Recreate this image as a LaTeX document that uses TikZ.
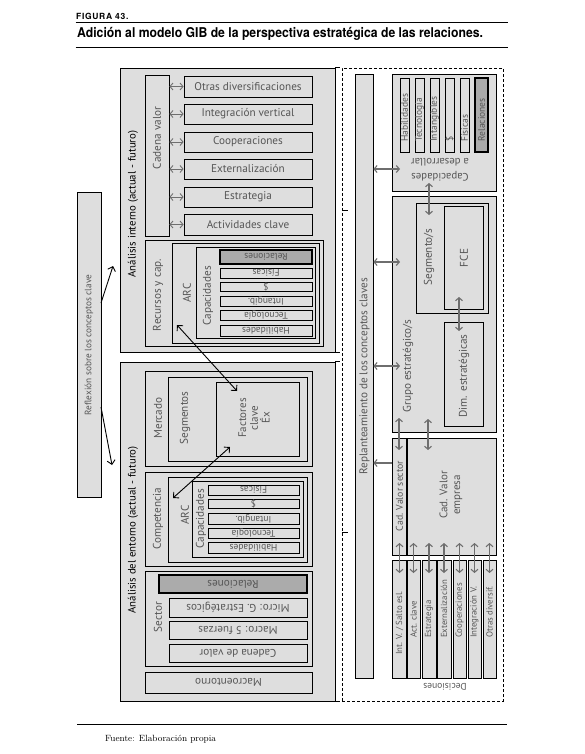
\documentclass[tikz,border=0pt]{standalone}
\usepackage{fontspec}
\newfontfamily\dfont{PT Sans}
\newfontfamily\hfont{TeX Gyre Heros}
\usetikzlibrary{arrows.meta,fit}
\definecolor{boxgray}{HTML}{DEDEDE}
\definecolor{relgray}{HTML}{ABABAB}
\definecolor{txtgray}{HTML}{555555}
\definecolor{arrgray}{HTML}{6E6E6E}
\tikzset{
  box/.style={draw=black, line width=0.8pt, fill=boxgray, inner sep=0pt},
  relbox/.style={draw=black, line width=2.2pt, fill=relgray, inner sep=0pt},
  lbl/.style={font=\dfont\fontsize{11.2}{13}\selectfont, text=txtgray, inner sep=0pt},
  slbl/.style={font=\dfont\fontsize{9.5}{11}\selectfont, text=txtgray, inner sep=0pt},
  dlbl/.style={font=\dfont\fontsize{8.8}{10}\selectfont, text=txtgray, inner sep=0pt},
  blbl/.style={font=\dfont\fontsize{10.8}{12}\selectfont, text=black, inner sep=0pt},
  garr/.style={draw=arrgray, line width=1.1pt, {Straight Barb[length=3pt,width=7pt]}-{Straight Barb[length=3pt,width=7pt]}},
  garrone/.style={draw=arrgray, line width=1.1pt, -{Straight Barb[length=3pt,width=7pt]}},
  karr/.style={draw=black, line width=0.9pt, {Straight Barb[length=4pt,width=8pt]}-{Straight Barb[length=4pt,width=8pt]}},
  karrone/.style={draw=black, line width=0.9pt, -{Straight Barb[length=4pt,width=8pt]}},
  tick/.style={draw=black, line width=0.8pt},
}
\begin{document}
\begin{tikzpicture}[x=1pt,y=-1pt]
\useasboundingbox (0,0) rectangle (584,754);
% ---------- header ----------
\node[anchor=base west, inner sep=0pt, font=\hfont\bfseries\fontsize{8.5}{10}\selectfont\addfontfeature{LetterSpace=8}] (fig) at (76,19.3) {FIGURA 43.};
\draw[line width=0.9pt] (75.5,22.3) -- (507.5,22.3);
\node[anchor=base west, inner sep=0pt, font=\hfont\bfseries\fontsize{13.5}{15}\selectfont] (title) at (77,37.7) {\scalebox{0.905}[1]{Adición al modelo GIB de la perspectiva estratégica de las relaciones.}};
\draw[line width=1.4pt] (75.5,47.7) -- (507.5,47.7);
% ---------- footer ----------
\draw[line width=1pt] (77,724) -- (507,724);
\node[anchor=base west, inner sep=0pt, font=\fontsize{9}{10}\selectfont] (src) at (105,741.5) {Fuente: Elaboración propia};

% ---------- reflexion ----------
\node[box, fit={(77,192)(101,497)}] (refl) {};
\node[lbl, rotate=90, font=\dfont\fontsize{9.3}{11}\selectfont] (refltxt) at (89,345) {Reflexión sobre los conceptos clave};

% ---------- analisis interno ----------
\node[box, fit={(120,68)(335,352)}] (ai) {};
\node[blbl, rotate=90] (aitxt) at (133,204) {Análisis interno (actual - futuro)};
\node[box, fit={(145,75)(169,236)}] (cv) {};
\node[lbl, rotate=90] (cvtxt) at (157,138) {Cadena valor};
\node[box, fit={(184,76)(312,97)}] (od) {};
\node[box, fit={(184,104)(312,124)}] (iv) {};
\node[box, fit={(184,132)(312,152)}] (coop) {};
\node[box, fit={(184,159)(312,179)}] (ext) {};
\node[box, fit={(184,187)(312,207)}] (estr) {};
\node[box, fit={(184,214)(312,235)}] (act) {};
\node[lbl] (odtxt) at (od.center) {Otras diversificaciones};
\node[lbl] (ivtxt) at (iv.center) {Integración vertical};
\node[lbl] (cooptxt) at (coop.center) {Cooperaciones};
\node[lbl] (exttxt) at (ext.center) {Externalización};
\node[lbl] (estrtxt) at (estr.center) {Estrategia};
\node[lbl] (acttxt) at (act.center) {Actividades clave};
\foreach \b in {od,iv,coop,ext,estr,act}{
  \draw[garr, line width=0.9pt] (cv.east |- \b.west) -- (\b.west);
}
\node[box, fit={(145,240)(323,346)}] (rc) {};
\node[lbl, rotate=90] (rctxt) at (158,295) {Recursos y cap.};
\node[box, fit={(172,243)(319,343)}] (arca) {};
\node[lbl, rotate=90] (arcatxt) at (187,293) {ARC};
\node[box, fit={(196,247)(315,338)}] (capa) {};
\node[lbl, rotate=90] (capatxt) at (208,296) {Capacidades};
\node[relbox, fit={(220,250)(312,264)}] (rela) {};
\node[box, fit={(220,268)(312,278)}] (fisa) {};
\node[box, fit={(220,282)(312,291)}] (dina) {};
\node[box, fit={(220,296)(312,306)}] (inta) {};
\node[box, fit={(220,310)(312,320)}] (teca) {};
\node[box, fit={(220,325)(312,336)}] (haba) {};
\node[slbl, rotate=180] (relatxt) at (rela.center) {Relaciones};
\node[slbl, rotate=180] (fisatxt) at (fisa.center) {Físicas};
\node[slbl, rotate=180] (dinatxt) at (dina.center) {\$};
\node[slbl, rotate=180] (intatxt) at (inta.center) {Intangib.};
\node[slbl, rotate=180] (tecatxt) at (teca.center) {Tecnología};
\node[slbl, rotate=180] (habatxt) at (haba.center) {Habilidades};

% ---------- analisis del entorno ----------
\node[box, fit={(120,362)(335,701)}] (ae) {};
\node[blbl, rotate=90] (aetxt) at (133,530) {Análisis del entorno (actual - futuro)};
\node[box, fit={(145,371)(312,466)}] (merc) {};
\node[lbl, rotate=90] (merctxt) at (158,418) {Mercado};
\node[box, fit={(168,377)(307,461)}] (seg) {};
\node[lbl, rotate=90] (segtxt) at (185,418) {Segmentos};
\node[box, fit={(216,382)(299,456)}] (fac) {};
\node[lbl, rotate=90, align=center, font=\dfont\fontsize{11}{11.8}\selectfont] (factxt) at (254,418) {Factores\\clave\\Éx};
\node[box, fit={(145,472)(312,566)}] (comp) {};
\node[lbl, rotate=90] (comptxt) at (158,519) {Competencia};
\node[box, fit={(168,477)(307,562)}] (arcb) {};
\node[lbl, rotate=90] (arcbtxt) at (185,515) {ARC};
\node[box, fit={(192,481)(303,557)}] (capb) {};
\node[lbl, rotate=90] (capbtxt) at (201,519) {Capacidades};
\node[box, fit={(208,485)(299,495)}] (fisb) {};
\node[box, fit={(208,499)(299,508)}] (dinb) {};
\node[box, fit={(208,513)(299,524)}] (intb) {};
\node[box, fit={(208,528)(299,538)}] (tecb) {};
\node[box, fit={(208,542)(299,553)}] (habb) {};
\node[slbl, rotate=180] (fisbtxt) at (fisb.center) {Físicas};
\node[slbl, rotate=180] (dinbtxt) at (dinb.center) {\$};
\node[slbl, rotate=180] (intbtxt) at (intb.center) {Intangib.};
\node[slbl, rotate=180] (tecbtxt) at (tecb.center) {Tecnología};
\node[slbl, rotate=180] (habbtxt) at (habb.center) {Habilidades};
\node[box, fit={(145,571)(312,666)}] (sect) {};
\node[lbl, rotate=90] (secttxt) at (158,617) {Sector};
\node[relbox, fit={(159,575)(307,593)}] (relb) {};
\node[box, fit={(169,598)(307,617)}] (micro) {};
\node[box, fit={(169,621)(307,639)}] (macro) {};
\node[box, fit={(169,644)(307,662)}] (cadv) {};
\node[box, fit={(145,672)(312,693)}] (macroent) {};
\node[lbl, rotate=180] (relbtxt) at (relb.center) {Relaciones};
\node[lbl, rotate=180] (microtxt) at (micro.center) {Micro: G. Estratégicos};
\node[lbl, rotate=180] (macrotxt) at (macro.center) {Macro: 5 fuerzas};
\node[lbl, rotate=180] (cadvtxt) at (cadv.center) {Cadena de valor};
\node[lbl, rotate=180] (macroenttxt) at (macroent.center) {Macroentorno};

% small marks at the right of the left boxes
\draw[tick] (ai.north east) -- ++(5,0);
\draw[tick] (ai.south east) -- ++(5,0);
\draw[tick] (ae.north east) -- ++(5,0);
\draw[tick] (ae.south east) -- ++(5,0);

% ---------- black arrows ----------
\coordinate (r1a) at (101,303);
\coordinate (r1b) at (113,266);
\coordinate (r2a) at (101,407);
\coordinate (r2b) at (112,465);
\draw[karrone] (r1a) -- (r1b);
\draw[karrone] (r2a) -- (r2b);
\coordinate (x1) at (177,325);
\coordinate (x2) at (237,391);
\draw[karr] (x1) -- (x2);
\coordinate (x3) at (230,447);
\coordinate (x4) at (173,498);
\draw[karr] (x3) -- (x4);

% ---------- right part ----------
\node[draw=black, line width=0.8pt, dash pattern=on 3pt off 2pt, inner sep=0pt, fit={(342,68)(503,701)}] (dec) {};
\draw[tick] (342,210) -- (348,210);
\draw[tick] (342,532) -- (348,532);
\node[box, fit={(355,74)(373,678)}] (repl) {};
\node[lbl, rotate=90] (repltxt) at (364.5,376) {Replanteamiento de los conceptos claves};

\node[box, fit={(392,74)(496,191)}] (capdes) {};
\node[box, fit={(400,78)(409,152)}] (habc) {};
\node[box, fit={(415,78)(424,152)}] (tecc) {};
\node[box, fit={(430,78)(439,152)}] (intc) {};
\node[box, fit={(445,78)(454,152)}] (dinc) {};
\node[box, fit={(460,78)(469,152)}] (fisc) {};
\node[relbox, fit={(475,78)(488,152)}] (relc) {};
\node[slbl, rotate=90, anchor=west] (habctxt) at (404.5,142) {Habilidades};
\node[slbl, rotate=90, anchor=west] (tecctxt) at (419.5,142) {Tecnología};
\node[slbl, rotate=90, anchor=west] (intctxt) at (434.5,142) {Intangibles};
\node[slbl, rotate=90, anchor=west] (dinctxt) at (449.5,142) {\$};
\node[slbl, rotate=90, anchor=west] (fisctxt) at (464.5,142) {Físicas};
\node[slbl, rotate=90, anchor=west] (relctxt) at (481.5,142) {Relaciones};
\node[lbl, rotate=180, align=center, font=\dfont\fontsize{10.8}{14.5}\selectfont] (capdestxt) at (440,170) {Capacidades\\a desarrollar};

\node[box, fit={(392,196)(496,432)}] (grp) {};
\node[lbl, rotate=90] (grptxt) at (408,366) {Grupo estratégico/s};
\node[box, fit={(416,203)(488,313)}] (segs) {};
\node[lbl, rotate=90] (segstxt) at (429,257) {Segmento/s};
\node[box, fit={(444,206)(483,309)}] (fce) {};
\node[lbl, rotate=90] (fcetxt) at (464,258) {FCE};
\node[box, fit={(444,322)(483,426)}] (dim) {};
\node[lbl, rotate=90] (dimtxt) at (464,376) {Dim. estratégicas};

\node[box, fit={(392,438)(406,555)}] (cvs) {};
\node[lbl, rotate=90, font=\dfont\fontsize{9.8}{11}\selectfont] (cvstxt) at (399.5,496) {Cad. Valor sector};
\node[box, fit={(407,438)(496,555)}] (cve) {};
\node[lbl, rotate=90, align=center, font=\dfont\fontsize{11}{12.8}\selectfont] (cvetxt) at (451,495) {Cad. Valor\\empresa};

\node[box, fit={(392,560)(406,678)}] (d1) {};
\node[box, fit={(407,560)(420,678)}] (d2) {};
\node[box, fit={(422,560)(436,678)}] (d3) {};
\node[box, fit={(437,560)(451,678)}] (d4) {};
\node[box, fit={(453,560)(466,678)}] (d5) {};
\node[box, fit={(468,560)(481,678)}] (d6) {};
\node[box, fit={(483,560)(496,678)}] (d7) {};
\node[dlbl, rotate=90, anchor=west] (d1txt) at (399.5,655) {Int. V. / Salto esl.};
\node[dlbl, rotate=90, anchor=west] (d2txt) at (413.5,638) {Act. clave};
\node[dlbl, rotate=90, anchor=west] (d3txt) at (429,638) {Estrategia};
\node[dlbl, rotate=90, anchor=west] (d4txt) at (444,638) {Externalización};
\node[dlbl, rotate=90, anchor=west] (d5txt) at (459.5,638) {Cooperaciones};
\node[dlbl, rotate=90, anchor=west] (d6txt) at (474.5,638) {Integración V.};
\node[dlbl, rotate=90, anchor=west] (d7txt) at (489.5,638) {Otras diversif.};
\node[dlbl, rotate=180, font=\dfont\fontsize{9.5}{10}\selectfont] (dectxt) at (445,687) {Decisiones};

% gray arrows
\coordinate (g1) at (400,169);
\draw[garr] (repl.east |- g1) -- (g1);
\coordinate (g2) at (400,262);
\draw[garr] (repl.east |- g2) -- (g2);
\coordinate (g3) at (400,366);
\draw[garr] (repl.east |- g3) -- (g3);
\coordinate (g4a) at (429,183);
\coordinate (g4b) at (429,215);
\draw[garr] (g4a) -- (g4b);
\coordinate (g5a) at (459,297);
\coordinate (g5b) at (459,331);
\draw[garr] (g5a) -- (g5b);
\coordinate (g6a) at (399,418);
\coordinate (g6b) at (399,450);
\draw[garr] (g6a) -- (g6b);
\coordinate (g7a) at (428,419);
\coordinate (g7b) at (428,450);
\draw[garr] (g7a) -- (g7b);
\coordinate (g8) at (392,463);
\draw[garrone] (g8) -- (repl.east |- g8);
\foreach \d/\xx in {d1/399.5,d2/413.5,d3/429,d4/444,d5/459.5,d6/474.5,d7/489.5}{
  \draw[garr] (\xx,543) -- (\xx,573);
}
\end{tikzpicture}
\end{document}
